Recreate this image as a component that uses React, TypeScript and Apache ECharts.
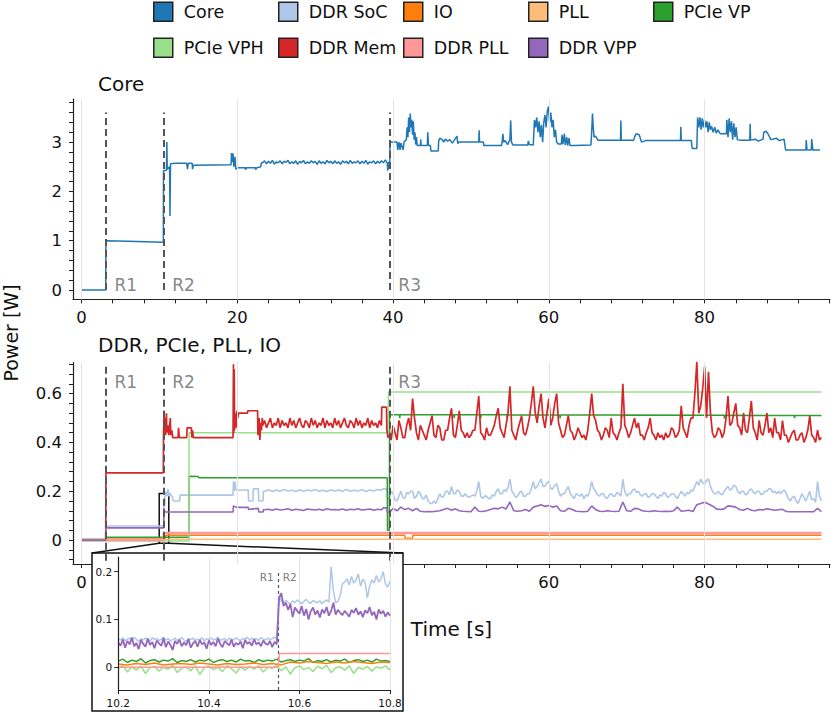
import React, { useEffect, useRef } from "react";
import * as echarts from "echarts";

type P = [number, number];
const FONT = "DejaVu Sans";

// ---------- colours ----------
const C_CORE = "#1f77b4";
const C_SOC = "#aec7e8";
const C_IO = "#ff7f0e";
const C_PLL = "#ffbb78";
const C_VP = "#2ca02c";
const C_VPH = "#98df8a";
const C_MEM = "#d62728";
const C_DPLL = "#ff9896";
const C_VPP = "#9467bd";

// ---------- axis ticks / labels ----------
const X_TICKS = [0, 4, 8, 12, 16, 20, 24, 28, 32, 36, 40, 44, 48, 52, 56, 60, 64, 68, 72, 76, 80, 84, 88, 92, 96];
const X_LABELS = [0, 20, 40, 60, 80];
const Y0_TICKS = [0, 0.2, 0.4, 0.6, 0.8, 1, 1.2, 1.4, 1.6, 1.8, 2, 2.2, 2.4, 2.6, 2.8, 3, 3.2, 3.4, 3.6, 3.8];
const Y0_LABELS = [0, 1, 2, 3];
const Y1_TICKS = [-0.08, -0.04, 0, 0.04, 0.08, 0.12, 0.16, 0.2, 0.24, 0.28, 0.32, 0.36, 0.4, 0.44, 0.48, 0.52, 0.56, 0.6, 0.64, 0.68, 0.72];
const Y1_LABELS = [0, 0.2, 0.4, 0.6];
const XI_TICKS = [10.2, 10.4, 10.6, 10.8];
const YI_TICKS = [0, 0.1, 0.2];

// ---------- region markers ----------
const R_NAMES = ["R1", "R2", "R3"];
const R_T = [3.13, 10.54, 39.58];
const INSET_R_T = 10.553;
const ZOOM_BOX = [9.97, -0.013, 11.2, 0.191]; // t0, v0, t1, v1

// sampled segment helper: values typed, time from sample index
function seg(t0: number, dt: number, vals: number[]): P[] {
  return vals.map((v, i) => [+(t0 + i * dt).toFixed(4), v] as P);
}

// ---------- Core ----------
const CORE_A: P[] = [[0, 0], [3.1, 0], [3.13, 1.0], [6, 0.99], [10.5, 0.97], [10.52, 2.42], [10.9, 2.43], [10.95, 3.0], [11.0, 2.45], [11.3, 2.5], [11.35, 1.5], [11.42, 2.56], [12, 2.57], [13.5, 2.57], [13.6, 2.45], [13.7, 2.57], [14.2, 2.57], [14.25, 2.45], [14.35, 2.53], [19.2, 2.54], [19.25, 2.78], [19.35, 2.6], [19.45, 2.77], [19.55, 2.5], [19.7, 2.7], [19.8, 2.45], [20.1, 2.48], [21.0, 2.48], [21.05, 2.44], [21.2, 2.48], [22.3, 2.48], [22.35, 2.44], [22.5, 2.48], [23.0, 2.5], [23.1, 2.58]];
const CORE_BAND = [2.58, 2.62, 2.56, 2.61, 2.57, 2.63, 2.55, 2.6, 2.58, 2.62, 2.56, 2.61, 2.59, 2.63, 2.56, 2.6, 2.57, 2.62, 2.55, 2.61, 2.58, 2.63, 2.56, 2.6, 2.57, 2.62, 2.58, 2.61, 2.55, 2.62, 2.57, 2.6, 2.56, 2.63, 2.58, 2.61, 2.56, 2.62, 2.57, 2.6, 2.55, 2.62, 2.58, 2.61, 2.56, 2.63, 2.57, 2.6, 2.58, 2.62, 2.56, 2.61, 2.57, 2.63, 2.55, 2.6, 2.58, 2.62, 2.56, 2.61, 2.57, 2.62, 2.58, 2.64];
const CORE_B: P[] = [[39.25, 2.58], [39.3, 2.42], [39.45, 2.6], [39.55, 2.45], [39.6, 3.0], [40.5, 3.0], [40.6, 2.84], [40.75, 3.0], [40.9, 2.84], [41.0, 2.98], [41.3, 2.84], [41.4, 3.0], [41.7, 3.05], [41.8, 3.3], [41.9, 3.1], [42.0, 3.5], [42.1, 3.2], [42.2, 3.58], [42.3, 3.3], [42.4, 3.45], [42.5, 3.15], [42.6, 3.42], [42.7, 3.05], [42.8, 3.2], [42.9, 2.95], [43.0, 3.1], [43.1, 2.93], [43.5, 2.93], [43.55, 3.05], [43.6, 2.93], [44.4, 2.93], [44.45, 3.2], [44.55, 2.93], [44.8, 2.93], [44.85, 2.82], [45.8, 2.82], [45.85, 3.02], [46.0, 3.08], [46.3, 3.05], [46.5, 3.0], [46.7, 3.06], [47.0, 3.02], [47.3, 3.05], [47.6, 2.98], [47.9, 3.05], [48.2, 3.12], [48.3, 2.97], [48.4, 3.0], [51.0, 3.0], [51.05, 3.24], [51.1, 3.0], [51.6, 3.0], [51.65, 2.93], [53.9, 2.93], [54.0, 3.0], [54.1, 3.17], [54.2, 3.0], [54.4, 3.03], [54.7, 2.95], [55.0, 3.05], [55.1, 3.44], [55.2, 3.0], [55.4, 2.94], [57.3, 2.94], [57.35, 3.02], [57.5, 2.95], [58.0, 2.94], [58.15, 3.45], [58.3, 3.3], [58.45, 3.5], [58.6, 3.2], [58.75, 3.42], [58.9, 3.1], [59.05, 3.35], [59.2, 3.0], [59.35, 3.4], [59.5, 3.55], [59.65, 3.3], [59.8, 3.62], [59.95, 3.72], [60.1, 3.4], [60.25, 3.6], [60.4, 3.3], [60.55, 3.45], [60.7, 3.1], [60.85, 3.25], [61.0, 3.0], [61.2, 2.96], [61.6, 2.96], [61.7, 3.15], [61.8, 2.96], [62.0, 3.17], [62.1, 2.94], [62.3, 3.1], [62.4, 2.93], [62.6, 3.08], [62.7, 2.93], [63.3, 2.93], [63.35, 2.94], [65.4, 2.94], [65.5, 3.2], [65.6, 3.58], [65.7, 3.3], [65.8, 3.1], [66.0, 3.12], [66.3, 3.04], [69.2, 3.04], [69.25, 3.44], [69.3, 3.04], [70.9, 3.04], [71.0, 3.1], [71.2, 3.17], [71.6, 3.15], [71.9, 3.0], [72.4, 3.03], [76.9, 3.03], [76.95, 3.31], [77.0, 3.03], [78.3, 3.03], [78.4, 2.87], [79.0, 2.87], [79.1, 3.5], [79.25, 3.3], [79.4, 3.5], [79.55, 3.25], [79.7, 3.48], [79.85, 3.3], [80.0, 3.45], [80.15, 3.3], [80.3, 3.42], [80.45, 3.2], [80.6, 3.4], [80.75, 3.25], [80.9, 3.32], [81.1, 3.2], [81.3, 3.3], [81.5, 3.18], [81.7, 3.25], [82.0, 3.17], [82.8, 3.17], [82.85, 3.45], [83.0, 3.1], [83.15, 3.48], [83.3, 3.2], [83.45, 3.42], [83.6, 3.05], [83.75, 3.38], [83.9, 3.1], [84.05, 3.3], [84.2, 3.05], [84.5, 3.04], [85.8, 3.04], [85.85, 3.37], [85.9, 3.04], [86.5, 3.06], [86.9, 3.02], [87.5, 3.06], [87.6, 3.2], [87.9, 3.22], [88.2, 3.15], [88.5, 3.05], [89.2, 3.08], [89.6, 3.03], [90.2, 3.06], [90.4, 2.84], [93.0, 2.84], [93.05, 3.04], [93.15, 2.84], [93.7, 2.84], [93.75, 3.06], [93.9, 2.84], [94.8, 2.84]];
const CORE: P[] = [...CORE_A, ...seg(23.25, 0.25, CORE_BAND), ...CORE_B];

// ---------- DDR Mem ----------
const MEM_A: P[] = [[0, 0], [3.1, 0], [3.13, 0.275], [10.5, 0.275], [10.52, 0.43], [10.6, 0.53], [10.65, 0.44], [10.75, 0.5], [10.8, 0.43], [10.9, 0.52], [10.95, 0.44], [11.1, 0.47], [11.2, 0.43], [11.4, 0.5], [11.45, 0.43], [11.6, 0.45], [11.7, 0.42], [12.4, 0.42], [12.45, 0.46], [12.55, 0.42], [13.5, 0.42], [13.55, 0.46], [14.1, 0.46], [14.15, 0.42], [14.25, 0.45], [14.35, 0.42], [19.45, 0.42], [19.5, 0.72], [19.55, 0.44], [19.6, 0.7], [19.65, 0.45], [19.75, 0.52], [19.85, 0.46], [19.95, 0.53], [20.05, 0.5], [20.15, 0.52], [21.3, 0.52], [21.35, 0.53], [22.6, 0.53], [22.65, 0.43], [22.8, 0.5], [22.9, 0.41], [23.0, 0.48], [23.1, 0.45], [23.2, 0.5]];
const MEM_BAND = [0.47, 0.49, 0.46, 0.48, 0.5, 0.46, 0.48, 0.47, 0.5, 0.46, 0.49, 0.47, 0.48, 0.46, 0.5, 0.47, 0.49, 0.46, 0.48, 0.5, 0.47, 0.46, 0.49, 0.48, 0.46, 0.5, 0.47, 0.49, 0.46, 0.48, 0.47, 0.5, 0.46, 0.49, 0.47, 0.48, 0.46, 0.5, 0.47, 0.49, 0.46, 0.48, 0.5, 0.47, 0.46, 0.49, 0.48, 0.46, 0.5, 0.47, 0.49, 0.46, 0.48, 0.47, 0.5, 0.46, 0.49, 0.47, 0.48, 0.46, 0.49, 0.47];
const MEM_B: P[] = [[38.55, 0.545], [39.15, 0.545], [39.2, 0.45], [39.35, 0.42]];
const MEM_R3 = [
  0.43, 0.41, 0.47, 0.44, 0.41, 0.49, 0.46, 0.42, 0.42, 0.47, 0.5, 0.45, 0.58, 0.5, 0.44, 0.41, 0.47, 0.45, 0.43, 0.41,
  0.45, 0.48, 0.51, 0.43, 0.42, 0.47, 0.46, 0.41, 0.41, 0.45, 0.45, 0.5, 0.54, 0.43, 0.42, 0.47, 0.53, 0.45, 0.44, 0.42,
  0.44, 0.42, 0.43, 0.45, 0.45, 0.52, 0.59, 0.44, 0.43, 0.41, 0.46, 0.43, 0.43, 0.45, 0.47, 0.51, 0.54, 0.46, 0.44, 0.42,
  0.47, 0.52, 0.63, 0.45, 0.43, 0.41, 0.45, 0.48, 0.51, 0.44, 0.43, 0.46, 0.5, 0.56, 0.63, 0.52, 0.48, 0.55, 0.6, 0.5,
  0.46, 0.52, 0.58, 0.47, 0.5, 0.56, 0.6, 0.48, 0.45, 0.42, 0.43, 0.47, 0.51, 0.45, 0.44, 0.41, 0.43, 0.46, 0.44, 0.42,
  0.43, 0.41, 0.45, 0.52, 0.6, 0.51, 0.49, 0.45, 0.44, 0.41, 0.43, 0.46, 0.45, 0.42, 0.5, 0.44, 0.43, 0.41, 0.44, 0.46,
  0.64, 0.47, 0.45, 0.42, 0.44, 0.47, 0.5, 0.46, 0.48, 0.43, 0.43, 0.41, 0.44, 0.46, 0.5, 0.44, 0.43, 0.41, 0.44, 0.42,
  0.43, 0.41, 0.44, 0.42, 0.43, 0.46, 0.45, 0.42, 0.43, 0.45, 0.55, 0.46, 0.44, 0.42, 0.47, 0.5, 0.5, 0.6, 0.73, 0.52,
  0.55, 0.62, 0.71, 0.5, 0.69, 0.52, 0.44, 0.42, 0.43, 0.46, 0.45, 0.42, 0.44, 0.5, 0.59, 0.47, 0.48, 0.52, 0.56, 0.47,
  0.46, 0.43, 0.52, 0.45, 0.44, 0.5, 0.57, 0.46, 0.44, 0.41, 0.49, 0.44, 0.43, 0.47, 0.52, 0.44, 0.46, 0.42, 0.5, 0.44,
  0.44, 0.41, 0.49, 0.43, 0.43, 0.4, 0.42, 0.44, 0.45, 0.41, 0.41, 0.43, 0.44, 0.4, 0.42, 0.45, 0.51, 0.43, 0.42, 0.4,
  0.45, 0.41, 0.42];
const MEM: P[] = [...MEM_A, ...seg(23.25, 0.25, MEM_BAND), ...MEM_B, ...seg(39.5, 0.25, MEM_R3)];

// ---------- DDR SoC ----------
const SOC_A: P[] = [[0, 0], [3.1, 0], [3.13, 0.058], [10.55, 0.058], [10.56, 0.14], [10.68, 0.14], [10.69, 0.18], [10.8, 0.185], [10.9, 0.2], [11.0, 0.18], [11.1, 0.21], [11.2, 0.18], [11.4, 0.19], [11.6, 0.18], [11.8, 0.16], [12.6, 0.16], [12.65, 0.184], [19.45, 0.184], [19.5, 0.24], [19.6, 0.2], [19.7, 0.24], [19.8, 0.205], [21.4, 0.205], [21.45, 0.16], [22.0, 0.16], [22.05, 0.21], [22.7, 0.21], [22.75, 0.16], [23.3, 0.16], [23.35, 0.2]];
const SOC_BAND = [0.2, 0.206, 0.199, 0.205, 0.2, 0.207, 0.201, 0.204, 0.199, 0.206, 0.2, 0.205, 0.202, 0.207, 0.2, 0.204, 0.199, 0.206, 0.201, 0.205, 0.2, 0.207, 0.2, 0.204, 0.201, 0.206, 0.199, 0.205, 0.201, 0.207, 0.204];
const SOC_B: P[] = [[38.7, 0.21], [39.2, 0.21], [39.3, 0.17]];
const SOC_R3 = [
  0.17, 0.2, 0.19, 0.165, 0.16, 0.18, 0.2, 0.175, 0.17, 0.195, 0.19, 0.2, 0.2, 0.17, 0.18, 0.2, 0.19, 0.17, 0.17, 0.185,
  0.16, 0.15, 0.15, 0.16, 0.15, 0.17, 0.19, 0.175, 0.18, 0.2, 0.2, 0.185, 0.22, 0.19, 0.19, 0.205, 0.2, 0.18, 0.18, 0.19,
  0.18, 0.175, 0.18, 0.185, 0.18, 0.2, 0.24, 0.18, 0.17, 0.18, 0.18, 0.17, 0.17, 0.185, 0.18, 0.2, 0.21, 0.19, 0.19, 0.205,
  0.2, 0.215, 0.25, 0.2, 0.19, 0.175, 0.18, 0.195, 0.2, 0.18, 0.18, 0.19, 0.19, 0.21, 0.24, 0.21, 0.22, 0.235, 0.25, 0.22,
  0.22, 0.235, 0.24, 0.21, 0.21, 0.225, 0.23, 0.2, 0.18, 0.19, 0.19, 0.205, 0.22, 0.19, 0.18, 0.17, 0.19, 0.185, 0.18, 0.19,
  0.17, 0.185, 0.18, 0.2, 0.24, 0.21, 0.2, 0.185, 0.18, 0.19, 0.19, 0.175, 0.17, 0.185, 0.19, 0.18, 0.18, 0.195, 0.19, 0.18,
  0.25, 0.2, 0.18, 0.19, 0.19, 0.205, 0.21, 0.195, 0.2, 0.185, 0.18, 0.19, 0.19, 0.175, 0.18, 0.19, 0.19, 0.18, 0.17, 0.185,
  0.18, 0.195, 0.19, 0.175, 0.18, 0.19, 0.19, 0.18, 0.17, 0.185, 0.2, 0.19, 0.18, 0.195, 0.19, 0.205, 0.2, 0.22, 0.24, 0.225,
  0.25, 0.235, 0.23, 0.245, 0.25, 0.22, 0.2, 0.19, 0.19, 0.2, 0.19, 0.185, 0.2, 0.21, 0.22, 0.205, 0.21, 0.225, 0.22, 0.2,
  0.19, 0.2, 0.2, 0.185, 0.19, 0.205, 0.21, 0.195, 0.19, 0.2, 0.2, 0.185, 0.19, 0.2, 0.2, 0.21, 0.21, 0.195, 0.2, 0.19,
  0.2, 0.19, 0.2, 0.205, 0.19, 0.17, 0.16, 0.175, 0.18, 0.16, 0.15, 0.17, 0.19, 0.175, 0.16, 0.18, 0.2, 0.165, 0.17, 0.155,
  0.24, 0.18, 0.16];
const SOC: P[] = [...SOC_A, ...seg(23.5, 0.5, SOC_BAND), ...SOC_B, ...seg(39.5, 0.25, SOC_R3)];

// ---------- DDR VPP ----------
const VPP_A: P[] = [[0, 0], [3.1, 0], [3.13, 0.05], [10.55, 0.05], [10.56, 0.13], [10.7, 0.115], [19.45, 0.115], [19.5, 0.14], [19.9, 0.134], [21.4, 0.134], [21.45, 0.125], [22.0, 0.128], [22.7, 0.13], [22.75, 0.115], [23.3, 0.115], [23.35, 0.125]];
const VPP_BAND = [0.124, 0.126, 0.122, 0.127, 0.123, 0.125, 0.128, 0.122, 0.126, 0.124, 0.121, 0.127, 0.125, 0.123, 0.126, 0.122, 0.128, 0.124, 0.125, 0.123, 0.127, 0.122, 0.126, 0.124, 0.128, 0.123, 0.125, 0.127, 0.122, 0.126, 0.124];
const VPP_B: P[] = [[38.75, 0.132], [39.2, 0.132], [39.25, 0.115], [39.6, 0.115]];
const VPP_R3 = [
  0.13, 0.12, 0.135, 0.125, 0.13, 0.12, 0.13, 0.118, 0.116, 0.117,
  0.116, 0.118, 0.12, 0.125, 0.13, 0.122, 0.128, 0.12, 0.118, 0.117,
  0.116, 0.135, 0.118, 0.117, 0.12, 0.125, 0.13, 0.128, 0.135, 0.127,
  0.156, 0.12, 0.118, 0.12, 0.125, 0.118, 0.135, 0.14, 0.145, 0.138,
  0.142, 0.135, 0.14, 0.12, 0.118, 0.13, 0.125, 0.118, 0.117, 0.116,
  0.118, 0.14, 0.125, 0.118, 0.117, 0.12, 0.118, 0.117, 0.118, 0.156,
  0.12, 0.118, 0.13, 0.128, 0.12, 0.118, 0.117, 0.12, 0.118, 0.117,
  0.118, 0.117, 0.12, 0.135, 0.118, 0.12, 0.122, 0.117, 0.145, 0.15,
  0.155, 0.148, 0.14, 0.128, 0.125, 0.128, 0.14, 0.138, 0.135, 0.125,
  0.122, 0.13, 0.122, 0.12, 0.125, 0.123, 0.128, 0.125, 0.122, 0.124,
  0.126, 0.117, 0.116, 0.116, 0.116, 0.116, 0.116, 0.116, 0.116, 0.13,
  0.116];
const VPP: P[] = [...VPP_A, ...seg(23.5, 0.5, VPP_BAND), ...VPP_B, ...seg(40, 0.5, VPP_R3)];

// ---------- PCIe, IO, PLL ----------
const PCIE_VP: P[] = [[0, 0.002], [3.1, 0.002], [3.13, 0.012], [13.78, 0.012], [13.8, 0.262], [15.0, 0.26], [15.05, 0.255], [39.25, 0.255], [39.28, 0.04], [39.52, 0.04], [39.55, 0.513], [40.8, 0.513], [40.85, 0.5], [40.9, 0.513], [47.8, 0.513], [47.85, 0.5], [47.9, 0.513], [51.2, 0.513], [51.25, 0.5], [51.3, 0.513], [54.6, 0.513], [54.65, 0.498], [54.7, 0.513], [61.4, 0.512], [61.45, 0.5], [61.5, 0.512], [69.3, 0.512], [69.35, 0.5], [69.4, 0.512], [82.5, 0.511], [82.55, 0.498], [82.6, 0.511], [91.5, 0.51], [91.55, 0.5], [91.6, 0.51], [95, 0.51]];
const PCIE_VPH: P[] = [[0, -0.004], [13.78, -0.004], [13.8, 0.44], [39.35, 0.44], [39.4, 0.607], [95, 0.607]];
const IO: P[] = [[0, 0], [3.1, 0], [3.13, 0.008], [10.8, 0.008], [10.82, 0.02], [41.5, 0.02], [41.55, 0.008], [42.5, 0.008], [42.55, 0.02], [95, 0.02]];
const DDR_PLL: P[] = [[0, 0], [10.55, 0], [10.56, 0.029], [95, 0.029]];
const PLL: P[] = [[0, 0.003], [95, 0.003]];

// ---------- inset (10.2 s – 10.8 s) ----------
const INSET_VPP = [
  0.052, 0.045, 0.058, 0.041, 0.055, 0.048, 0.062, 0.044, 0.051, 0.038, 0.057, 0.049, 0.043, 0.06, 0.047, 0.053, 0.04, 0.056, 0.05, 0.045,
  0.061, 0.042, 0.054, 0.047, 0.036, 0.055, 0.049, 0.058, 0.044, 0.052, 0.046, 0.059, 0.041, 0.05, 0.055, 0.043, 0.057, 0.048, 0.052, 0.039,
  0.056, 0.047, 0.053, 0.044, 0.06, 0.049, 0.042, 0.055, 0.05, 0.046, 0.058, 0.043, 0.051, 0.047, 0.054, 0.04, 0.057, 0.049, 0.053, 0.045,
  0.059, 0.048, 0.052, 0.044, 0.056, 0.05, 0.047, 0.055, 0.042, 0.053, 0.048,
  0.145, 0.155, 0.128, 0.135, 0.12, 0.132, 0.105, 0.125, 0.118, 0.112,
  0.128, 0.108, 0.122, 0.1, 0.117, 0.125, 0.11, 0.119, 0.104, 0.121,
  0.113, 0.126, 0.108, 0.118, 0.135, 0.11, 0.12, 0.114, 0.109, 0.118,
  0.112, 0.106, 0.12, 0.114, 0.124, 0.11, 0.117, 0.105, 0.119, 0.113,
  0.126, 0.109, 0.116, 0.1, 0.121, 0.112, 0.118, 0.106, 0.115, 0.108];
const INSET_SOC = [
  0.06, 0.057, 0.062, 0.055, 0.059, 0.061, 0.056, 0.063, 0.058, 0.054, 0.06, 0.057, 0.061, 0.059, 0.055, 0.062, 0.058, 0.06, 0.056, 0.059,
  0.063, 0.057, 0.06, 0.055, 0.058, 0.061, 0.056, 0.059, 0.062, 0.057, 0.054, 0.06, 0.058, 0.061, 0.056, 0.059, 0.057, 0.062, 0.055, 0.06,
  0.058, 0.061, 0.057, 0.059, 0.063, 0.056, 0.058, 0.06, 0.055, 0.061, 0.059, 0.057, 0.062, 0.058, 0.056, 0.06, 0.059, 0.063, 0.057, 0.061,
  0.058, 0.06, 0.056, 0.062, 0.059, 0.057, 0.061, 0.058, 0.06, 0.063, 0.059,
  0.15, 0.138, 0.134, 0.14, 0.136, 0.132, 0.139, 0.135, 0.141, 0.137,
  0.133, 0.138, 0.142, 0.136, 0.134, 0.14, 0.137, 0.135, 0.139, 0.133,
  0.138, 0.141, 0.136, 0.21, 0.16, 0.135, 0.138, 0.15, 0.175, 0.178,
  0.185, 0.172, 0.19, 0.176, 0.182, 0.195, 0.17, 0.184, 0.178, 0.145,
  0.17, 0.183, 0.176, 0.192, 0.178, 0.185, 0.2, 0.174, 0.168, 0.18];
const INSET_VP = [
  0.013, 0.017, 0.01, 0.015, 0.012, 0.018, 0.009, 0.014, 0.016, 0.011,
  0.015, 0.013, 0.018, 0.01, 0.014, 0.012, 0.016, 0.011, 0.015, 0.013,
  0.017, 0.01, 0.014, 0.016, 0.012, 0.015, 0.011, 0.017, 0.013, 0.014,
  0.01, 0.016, 0.012, 0.015, 0.013, 0.017, 0.011, 0.014, 0.016, 0.012,
  0.015, 0.013, 0.018, 0.01, 0.014, 0.012, 0.016, 0.011, 0.015, 0.013,
  0.017, 0.01, 0.014, 0.016, 0.012, 0.015, 0.011, 0.017, 0.013, 0.014,
  0.012];
const INSET_VPH = [
  -0.002, 0.004, -0.01, 0.001, -0.006, 0.003, -0.013, -0.001, 0.002, -0.008,
  0.0, -0.004, 0.005, -0.011, -0.002, 0.001, -0.007, 0.003, -0.015, -0.001,
  0.002, -0.005, 0.0, -0.009, 0.004, -0.003, -0.012, 0.001, -0.006, 0.002,
  -0.004, 0.003, -0.01, 0.0, -0.002, 0.004, -0.007, 0.001, -0.014, -0.001,
  0.003, -0.005, 0.0, -0.009, 0.002, -0.003, 0.004, -0.011, -0.001, 0.001,
  -0.006, 0.003, -0.013, 0.0, -0.004, 0.002, -0.008, 0.001, -0.002, 0.003,
  -0.006];
const INSET_IO = [0.007, 0.005, 0.008, 0.006, 0.009, 0.005, 0.007, 0.008, 0.006, 0.009, 0.007, 0.005, 0.008, 0.006, 0.007, 0.009, 0.006, 0.008, 0.005, 0.011, 0.009, 0.012, 0.01, 0.008, 0.011, 0.009, 0.012, 0.01, 0.008, 0.011, 0.01];
const INSET_DPLL: P[] = [[10.2, 0], [10.553, 0], [10.556, 0.029], [10.8, 0.029]];

// ---------- layout ----------
const FRAME = { x: 92, y: 553, w: 311, h: 158 };

function lineSeries(name: string, color: string, data: P[], gi: number, width = 1.5, z = 2) {
  return {
    name, type: "line", xAxisIndex: gi, yAxisIndex: gi, data,
    showSymbol: false, symbol: "none", silent: true, z,
    lineStyle: { color, width }, itemStyle: { color },
    emphasis: { disabled: true },
  };
}

function axis(gi: number, min: number, max: number, ticks: number[], labels: number[], fs: number, margin: number, extra: any = {}) {
  return {
    gridIndex: gi, type: "value", min, max,
    axisLine: { show: true, onZero: false, lineStyle: { color: "#222", width: 1.2 } },
    axisTick: { show: true, customValues: ticks, length: 4, lineStyle: { color: "#222", width: 1 } },
    axisLabel: { customValues: labels, fontSize: fs, color: "#111", margin, fontFamily: FONT },
    splitLine: { show: false },
    ...extra,
  };
}

function regionLabels(gi: number, ts: number[], names: string[], y: number, pos: string[], fs: number, color: string, dist: number) {
  return {
    name: "_lab" + gi + pos[0], type: "scatter", xAxisIndex: gi, yAxisIndex: gi, symbolSize: 1,
    itemStyle: { color: "rgba(0,0,0,0)" }, z: gi === 2 ? 11 : 4, silent: true,
    data: ts.map((t, i) => ({
      value: [t, y],
      label: { show: true, formatter: names[i], position: pos[i], distance: dist, color, fontSize: fs, fontFamily: FONT },
    })),
  };
}

const LEGEND_COLS = [["Core", "PCIe VPH"], ["DDR SoC", "DDR Mem"], ["IO", "DDR PLL"], ["PLL", "DDR VPP"], ["PCIe VP"]];

export default function App() {
  const ref = useRef<HTMLDivElement>(null);
  useEffect(() => {
    if (!ref.current) return;
    const chart = echarts.init(ref.current, undefined, { renderer: "svg" });

    const gridLineStyle = { color: "#e3e3e3", width: 1, type: "solid" };
    const dashStyle = { color: "#555", width: 2, type: [7, 4] };

    const option: any = {
      animation: false,
      textStyle: { fontFamily: FONT },
      legend: LEGEND_COLS.map((col, i) => ({
        left: 153 + 125 * i, top: 1.5, orient: "vertical", padding: 0,
        itemWidth: 19, itemHeight: 19, itemGap: 15.5, icon: "rect",
        itemStyle: { borderColor: "#222", borderWidth: 1.5 },
        selectedMode: false,
        textStyle: { fontSize: 17.5, color: "#111", fontFamily: FONT, padding: [0, 0, 0, 6] },
        data: col,
      })),
      grid: [
        { left: 73, top: 99.2, width: 757, height: 200.2 },
        { left: 73, top: 362.4, width: 757, height: 201.6 },
        { left: 118.3, top: 557, width: 271.7, height: 133, z: 10 },
      ],
      xAxis: [
        axis(0, -1.1, 96.1, X_TICKS, X_LABELS, 16.5, 10),
        axis(1, -1.1, 96.1, X_TICKS, X_LABELS, 16.5, 10, {
          name: "Time [s]", nameLocation: "middle", nameGap: 55,
          nameTextStyle: { fontSize: 20, color: "#111", fontFamily: FONT },
        }),
        axis(2, 10.2, 10.8, XI_TICKS, XI_TICKS, 10.5, 7, { z: 11 }),
      ],
      yAxis: [
        axis(0, -0.19, 3.87, Y0_TICKS, Y0_LABELS, 16.5, 11),
        axis(1, -0.098, 0.728, Y1_TICKS, Y1_LABELS, 16.5, 11),
        axis(2, -0.0475, 0.2307, YI_TICKS, YI_TICKS, 10.5, 6, { z: 11 }),
      ],
      graphic: [
        { id: "t0", type: "text", x: 98, y: 84, style: { text: "Core", fontSize: 20, fontFamily: FONT, fill: "#111", verticalAlign: "middle", align: "left" } },
        { id: "t1", type: "text", x: 98, y: 345, style: { text: "DDR, PCIe, PLL, IO", fontSize: 20, fontFamily: FONT, fill: "#111", verticalAlign: "middle", align: "left" } },
        { id: "ylab", type: "text", x: 11, y: 333, rotation: Math.PI / 2, style: { text: "Power [W]", fontSize: 19, fontFamily: FONT, fill: "#111", verticalAlign: "middle", align: "center" } },
        { id: "frame", type: "rect", z: 5, shape: { x: FRAME.x, y: FRAME.y, width: FRAME.w, height: FRAME.h }, style: { fill: "#fff", stroke: "#111", lineWidth: 1.5 } },
        { id: "c1", type: "line", z: 5, shape: { x1: 0, y1: 0, x2: 0, y2: 0 }, style: { stroke: "#111", lineWidth: 1.5 } },
        { id: "c2", type: "line", z: 5, shape: { x1: 0, y1: 0, x2: 0, y2: 0 }, style: { stroke: "#111", lineWidth: 1.5 } },
      ],
      series: [
        {
          name: "_g0", type: "line", xAxisIndex: 0, yAxisIndex: 0, data: [], z: 1, silent: true,
          markLine: { symbol: ["none", "none"], silent: true, label: { show: false }, lineStyle: gridLineStyle, data: X_LABELS.map((v) => ({ xAxis: v })) },
        },
        {
          name: "_r0", type: "line", xAxisIndex: 0, yAxisIndex: 0, data: [], z: 1, silent: true,
          markLine: { symbol: ["none", "none"], silent: true, label: { show: false }, lineStyle: dashStyle, data: R_T.map((t) => [{ coord: [t, 0] }, { coord: [t, 3.6] }]) },
        },
        {
          name: "_g1", type: "line", xAxisIndex: 1, yAxisIndex: 1, data: [], z: 1, silent: true,
          markLine: { symbol: ["none", "none"], silent: true, label: { show: false }, lineStyle: gridLineStyle, data: X_LABELS.map((v) => ({ xAxis: v })) },
        },
        {
          name: "_r1", type: "line", xAxisIndex: 1, yAxisIndex: 1, data: [], z: 1, silent: true,
          markLine: { symbol: ["none", "none"], silent: true, label: { show: false }, lineStyle: dashStyle, data: R_T.map((t) => [{ coord: [t, -0.085] }, { coord: [t, 0.725] }]) },
        },
        lineSeries("Core", C_CORE, CORE, 0, 1.5, 3),
        lineSeries("DDR SoC", C_SOC, SOC, 1, 1.6),
        lineSeries("IO", C_IO, IO, 1),
        lineSeries("PLL", C_PLL, PLL, 1),
        lineSeries("PCIe VP", C_VP, PCIE_VP, 1),
        lineSeries("PCIe VPH", C_VPH, PCIE_VPH, 1),
        lineSeries("DDR Mem", C_MEM, MEM, 1, 1.7),
        lineSeries("DDR PLL", C_DPLL, DDR_PLL, 1, 2.5),
        lineSeries("DDR VPP", C_VPP, VPP, 1, 1.6),
        {
          name: "_box", type: "line", xAxisIndex: 1, yAxisIndex: 1, data: [], z: 4, silent: true,
          markArea: { silent: true, itemStyle: { color: "rgba(0,0,0,0)", borderColor: "#111", borderWidth: 1.5 }, data: [[{ coord: [ZOOM_BOX[0], ZOOM_BOX[1]] }, { coord: [ZOOM_BOX[2], ZOOM_BOX[3]] }]] },
        },
        regionLabels(0, R_T, R_NAMES, 0.1, ["right", "right", "right"], 17, "#666", 8),
        regionLabels(1, R_T, R_NAMES, 0.649, ["right", "right", "right"], 17, "#666", 8),
        {
          name: "_gi", type: "line", xAxisIndex: 2, yAxisIndex: 2, data: [], z: 9, silent: true,
          markLine: { symbol: ["none", "none"], silent: true, label: { show: false }, lineStyle: gridLineStyle, data: [{ xAxis: 10.4 }, { xAxis: 10.6 }, { xAxis: 10.8 }] },
        },
        {
          name: "_ri", type: "line", xAxisIndex: 2, yAxisIndex: 2, data: [], z: 9, silent: true,
          markLine: { symbol: ["none", "none"], silent: true, label: { show: false }, lineStyle: { color: "#555", width: 1.2, type: [3, 3] }, data: [[{ coord: [INSET_R_T, -0.0475] }, { coord: [INSET_R_T, 0.2] }]] },
        },
        regionLabels(2, [INSET_R_T, INSET_R_T], ["R1", "R2"], 0.189, ["left", "right"], 10.5, "#555", 4),
        lineSeries("PCIe VPH", C_VPH, seg(10.2, 0.01, INSET_VPH), 2, 1.5, 10),
        lineSeries("PCIe VP", C_VP, seg(10.2, 0.01, INSET_VP), 2, 1.5, 10),
        lineSeries("IO", C_IO, seg(10.2, 0.02, INSET_IO), 2, 1.5, 10),
        lineSeries("DDR PLL", C_DPLL, INSET_DPLL, 2, 1.5, 10),
        lineSeries("DDR SoC", C_SOC, seg(10.2, 0.005, INSET_SOC), 2, 1.5, 10),
        lineSeries("DDR VPP", C_VPP, seg(10.2, 0.005, INSET_VPP), 2, 1.8, 10),
      ],
    };

    chart.setOption(option);

    const a = chart.convertToPixel({ xAxisIndex: 1, yAxisIndex: 1 } as any, [ZOOM_BOX[0], ZOOM_BOX[1]]) as number[];
    const b = chart.convertToPixel({ xAxisIndex: 1, yAxisIndex: 1 } as any, [ZOOM_BOX[2], ZOOM_BOX[1]]) as number[];
    if (a && b) {
      chart.setOption({
        graphic: [
          { id: "c1", shape: { x1: a[0], y1: a[1], x2: FRAME.x, y2: FRAME.y } },
          { id: "c2", shape: { x1: b[0], y1: b[1], x2: FRAME.x + FRAME.w, y2: FRAME.y } },
        ],
      });
    }

    return () => chart.dispose();
  }, []);

  return <div ref={ref} style={{ position: "fixed", left: 0, top: 0, width: 831, height: 712, background: "#fff" }} />;
}
